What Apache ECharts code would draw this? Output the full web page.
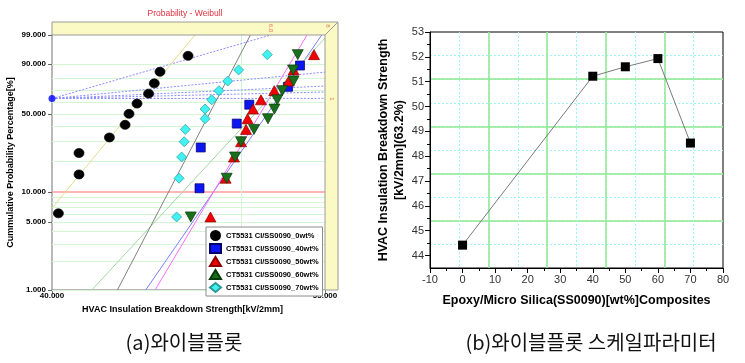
<!DOCTYPE html>
<html><head><meta charset="utf-8">
<script src="https://cdn.jsdelivr.net/npm/echarts@6/dist/echarts.min.js"></script>
<style>html,body{margin:0;padding:0;background:#fff}#c{width:745px;height:363px}</style>
</head><body><div id="c"></div>
<script>
// ---------- (a) Weibull probability plot data ----------
const seriesNames = ['CT5531 CI/SS0090_0wt%', 'CT5531 CI/SS0090_40wt%', 'CT5531 CI/SS0090_50wt%', 'CT5531 CI/SS0090_60wt%', 'CT5531 CI/SS0090_70wt%'];
// cumulative probability [%] (median ranks)
const rank11 = [6.14, 14.91, 23.68, 32.46, 41.23, 50.00, 58.77, 67.54, 76.32, 85.09, 93.86];
const rank12 = [5.65, 13.71, 21.77, 29.84, 37.90, 45.97, 54.03, 62.10, 70.16, 78.23, 86.29, 94.35];
const rank6 = [10.94, 26.56, 42.19, 57.81, 73.44, 89.06];
// breakdown strength [kV/2mm]
const kv0wt = [40.30, 41.28, 41.28, 42.77, 43.56, 43.76, 44.17, 44.77, 45.07, 45.37, 46.88];
const kv40wt = [47.51, 47.58, 49.62, 50.35, 52.68, 53.42];
const kv50wt = [48.12, 48.98, 49.46, 49.87, 50.16, 50.25, 50.57, 51.04, 51.84, 52.72, 53.02, 54.30];
const kv60wt = [47.03, 49.04, 49.52, 49.87, 50.63, 51.46, 51.85, 52.02, 52.33, 53.02, 52.99, 53.28];
const kv70wt = [46.26, 46.39, 46.53, 46.67, 46.73, 47.82, 47.82, 48.19, 48.60, 49.10, 49.73, 51.42];
// fitted lines [kV, %]
const fit0wt = [[40.00, 6.94], [47.26, 99]];
const fit40wt = [[44.62, 1], [54.79, 99]];
const fit50wt = [[45.11, 1], [53.86, 99]];
const fit60wt = [[41.90, 1], [55.00, 98.6]];
const fit70wt = [[43.17, 1], [50.42, 99]];
// slope-indicator guide lines
const betaOrigin = [40, 63.2];
const betaEnds = [[51.64, 99], [55, 84.9], [55, 74.1], [55, 69.0], [55, 63.4]];
// axis ticks / grid
const yTickPct = [1, 5, 10, 50, 90, 99];
const xTickKV = [40, 55];
const hGridPct = [1, 2, 3, 4, 5, 6, 7, 8, 9, 10, 20, 30, 40, 50, 60, 70, 80, 90, 99];
const vGridKV = [50];

// ---------- (b) scale parameter data ----------
const wtPct = [0, 40, 50, 60, 70];
const scaleParam = [44.42, 51.22, 51.60, 51.93, 48.53];
const bYTicks = [44, 45, 46, 47, 48, 49, 50, 51, 52, 53];

const captions = ['(a)와이블플롯', '(b)와이블플롯 스케일파라미터'];

// ---------- helpers ----------
const X = v => Math.log(v);
const Y = p => Math.log(-Math.log(1 - p / 100));
const toPts = (kv, pct) => kv.map((v, i) => [X(v), Y(pct[i])]);
const linePts = arr => arr.map(d => [X(d[0]), Y(d[1])]);
const FONT = 'Liberation Sans, Arial, sans-serif';

const chart = echarts.init(document.getElementById('c'));

const series = [];
// grid lines for Weibull paper
series.push({
  type: 'line', xAxisIndex: 0, yAxisIndex: 0, data: [[X(40), Y(50)]], showSymbol: false, silent: true, z: 1,
  markLine: {
    silent: true, symbol: 'none', animation: false, label: { show: false }, z: 1,
    data: hGridPct.map(p => ({ yAxis: Y(p), lineStyle: { color: p === 10 ? '#ff9c9c' : '#d4f6d4', width: p === 10 ? 1.5 : 1, type: 'solid' } }))
      .concat(vGridKV.map(v => ({ xAxis: X(v), lineStyle: { color: '#d4f6d4', width: 1, type: 'solid' } })))
  }
});
// guide lines
betaEnds.forEach(e => series.push({
  type: 'line', xAxisIndex: 0, yAxisIndex: 0, data: linePts([betaOrigin, e]), showSymbol: false, silent: true, z: 2,
  lineStyle: { color: '#8c8cff', width: 1, type: [2, 1.5] }
}));
series.push({ type: 'scatter', xAxisIndex: 0, yAxisIndex: 0, data: linePts([betaOrigin]), symbolSize: 7, itemStyle: { color: '#0000ff' }, z: 3, silent: true });
// fitted lines
const fits = [[fit0wt, '#e4dd8c'], [fit40wt, '#7d7dff'], [fit50wt, '#ff6cff'], [fit60wt, '#a4d8a0'], [fit70wt, '#808080']];
fits.forEach(f => series.push({
  type: 'line', xAxisIndex: 0, yAxisIndex: 0, data: linePts(f[0]), showSymbol: false, silent: true, z: 3,
  lineStyle: { color: f[1], width: 1 }
}));
// data points
const pts = [
  [kv0wt, rank11, 'circle', [10, 9], 0, '#000000', '#000000'],
  [kv40wt, rank6, 'rect', [9, 9], 0, '#0c16f2', '#00006a'],
  [kv50wt, rank12, 'triangle', [11, 10], 0, '#f40000', '#8a0000'],
  [kv60wt, rank12, 'triangle', [11, 10], 180, '#18701c', '#0a3a0c'],
  [kv70wt, rank12, 'diamond', [10, 10], 0, '#40f2f2', '#2a9a9a']
];
pts.forEach((s, i) => series.push({
  type: 'scatter', name: seriesNames[i], xAxisIndex: 0, yAxisIndex: 0, data: toPts(s[0], s[1]),
  symbol: s[2], symbolSize: s[3], symbolRotate: s[4], z: 5,
  itemStyle: { color: s[5], borderColor: s[6], borderWidth: 0.7, opacity: 1 }
}));
// (b) series
series.push({
  type: 'line', xAxisIndex: 1, yAxisIndex: 1, data: wtPct.map((w, i) => [w, scaleParam[i]]),
  symbol: 'rect', symbolSize: 9, itemStyle: { color: '#000' }, lineStyle: { color: '#7a7a7a', width: 1 }, z: 5
});

const hiddenAx = (grid, min, max, interval, color, type, width) => ({
  type: 'value', gridIndex: grid, min: min, max: max, interval: interval,
  axisLine: { show: false, onZero: false }, axisTick: { show: false }, axisLabel: { show: false },
  splitLine: { show: true, showMinLine: false, showMaxLine: false, lineStyle: { color: color, type: type, width: width } }
});

const option = {
  animation: false,
  title: {
    text: 'Probability - Weibull', left: 180, top: 4, textAlign: 'center',
    textStyle: { fontSize: 8.5, fontWeight: 'normal', color: '#e0303c', fontFamily: FONT }
  },
  legend: {
    data: seriesNames, orient: 'vertical', left: 206, top: 227, selectedMode: false, z: 30,
    itemWidth: 11, itemHeight: 9, itemGap: 2, padding: [3, 4, 3, 3],
    backgroundColor: '#fff', borderColor: '#8a8a8a', borderWidth: 1, borderRadius: 0,
    textStyle: { fontSize: 7.5, fontWeight: 'bold', color: '#000', fontFamily: FONT, padding: [0, 0, 0, 0] }
  },
  grid: [
    { left: 52, top: 35, width: 273, height: 255, show: false },
    { left: 430, top: 32, width: 293, height: 236, show: true, borderColor: '#000', borderWidth: 1, backgroundColor: 'transparent' }
  ],
  xAxis: [
    {
      type: 'value', gridIndex: 0, min: X(40), max: X(55),
      axisLine: { show: true, onZero: false, lineStyle: { color: '#a0a0a0', width: 1.5 } },
      axisTick: { show: true, customValues: xTickKV.map(X), length: 3, lineStyle: { color: '#777' } },
      axisLabel: { customValues: xTickKV.map(X), formatter: v => Math.exp(v).toFixed(3), fontSize: 8, fontWeight: 'bold', color: '#000', fontFamily: FONT, margin: 2 },
      splitLine: { show: false },
      name: 'HVAC Insulation Breakdown Strength[kV/2mm]', nameLocation: 'middle', nameGap: 11,
      nameTextStyle: { fontSize: 9, fontWeight: 'bold', color: '#000', fontFamily: FONT, padding: [0, 12, 0, 0] }
    },
    {
      type: 'value', gridIndex: 1, min: -10, max: 80, interval: 10,
      axisLine: { show: true, onZero: false, lineStyle: { color: '#000', width: 1 } },
      axisTick: { show: true, inside: false, length: 5, lineStyle: { color: '#000' } },
      minorTick: { show: true, splitNumber: 2, length: 3, lineStyle: { color: '#000' } },
      axisLabel: { fontSize: 11, color: '#333', fontFamily: FONT, margin: 6 },
      splitLine: { show: false },
      name: 'Epoxy/Micro Silica(SS0090)[wt%]Composites', nameLocation: 'middle', nameGap: 26,
      nameTextStyle: { fontSize: 12.5, fontWeight: 'bold', color: '#000', fontFamily: FONT }
    },
    hiddenAx(1, 0, 10, 1, '#9ff5f5', [2, 2], 1),
    hiddenAx(1, 0, 10, 2, '#8fe88f', 'solid', 1.5)
  ],
  yAxis: [
    {
      type: 'value', gridIndex: 0, min: Y(1), max: Y(99),
      axisLine: { show: true, onZero: false, lineStyle: { color: '#a0a0a0', width: 1.5 } },
      axisTick: { show: true, customValues: yTickPct.map(Y), length: 4, lineStyle: { color: '#666' } },
      axisLabel: { customValues: yTickPct.map(Y), formatter: v => ((1 - Math.exp(-Math.exp(v))) * 100).toFixed(3), fontSize: 8, fontWeight: 'bold', color: '#000', fontFamily: FONT, margin: 6 },
      splitLine: { show: false },
      name: 'Cummulative Probability Percentage[%]', nameLocation: 'middle', nameGap: 37,
      nameTextStyle: { fontSize: 9, fontWeight: 'bold', color: '#000', fontFamily: FONT }
    },
    {
      type: 'value', gridIndex: 1, min: 43.5, max: 53, position: 'left', splitNumber: 10,
      axisLine: { show: true, onZero: false, lineStyle: { color: '#000', width: 1 } },
      axisTick: { show: true, customValues: bYTicks, length: 5, lineStyle: { color: '#000' } },
      minorTick: { show: true, splitNumber: 2, length: 3, lineStyle: { color: '#000' } },
      axisLabel: { customValues: bYTicks, fontSize: 11, color: '#333', fontFamily: FONT, margin: 6 },
      splitLine: { show: false },
      name: 'HVAC Insulation Breakdown Strength\n[kV/2mm](63.2%)', nameLocation: 'middle', nameGap: 13,
      nameTextStyle: { fontSize: 12.5, fontWeight: 'bold', color: '#000', fontFamily: FONT, lineHeight: 16 }
    },
    hiddenAx(1, 0, 10, 1, '#9ff5f5', [2, 2], 1),
    hiddenAx(1, 0, 10, 2, '#8fe88f', 'solid', 1.5)
  ],
  series: series,
  graphic: [
    { type: 'polygon', shape: { points: [[52, 22], [338, 22], [325, 35], [52, 35]] }, style: { fill: '#fcfac4', stroke: '#9a9a9a', lineWidth: 1 }, z: 10 },
    { type: 'polygon', shape: { points: [[325, 35], [338, 22], [338, 290], [325, 290]] }, style: { fill: '#fcfac4', stroke: '#9a9a9a', lineWidth: 1 }, z: 10 },
    { type: 'text', x: 271, y: 28, rotation: -Math.PI / 2, style: { text: '6.0', font: '6px ' + FONT, fill: '#e07050', align: 'center', verticalAlign: 'middle' }, z: 11 },
    { type: 'text', x: 328, y: 26, rotation: -Math.PI / 2, style: { text: '8', font: '6px ' + FONT, fill: '#e07050', align: 'center', verticalAlign: 'middle' }, z: 11 },
    { type: 'text', x: 332, y: 99, rotation: -Math.PI / 2, style: { text: '1', font: '6px ' + FONT, fill: '#e07050', align: 'center', verticalAlign: 'middle' }, z: 11 },
    { type: 'text', x: 184, y: 342, style: { text: captions[0], font: '20px "Noto Sans CJK KR"', fill: '#111', align: 'center', verticalAlign: 'middle' } },
    { type: 'text', x: 591, y: 342, style: { text: captions[1], font: '20px "Noto Sans CJK KR"', fill: '#111', align: 'center', verticalAlign: 'middle' } }
  ]
};
chart.setOption(option);
</script>
</body></html>
